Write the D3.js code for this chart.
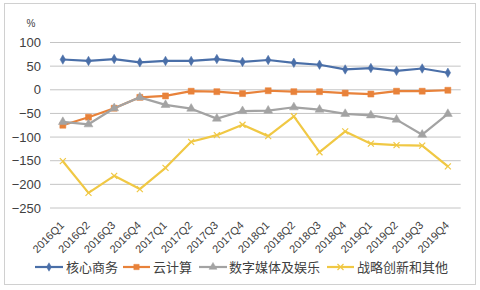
<!DOCTYPE html>
<html>
<head>
<meta charset="utf-8">
<script src="https://cdn.jsdelivr.net/npm/d3@7"></script>
<style>
  body { margin: 0; background: #fff; }
  svg text { font-family: "Liberation Sans", "Noto Sans CJK SC", sans-serif; fill: #404040; }
</style>
</head>
<body>
<svg id="chart" width="480" height="290"></svg>
<script>
const quarters = ["2016Q1","2016Q2","2016Q3","2016Q4","2017Q1","2017Q2","2017Q3","2017Q4",
  "2018Q1","2018Q2","2018Q3","2018Q4","2019Q1","2019Q2","2019Q3","2019Q4"];
const coreCommerce = [64, 61, 65, 58, 61, 61, 65, 59, 63, 57, 53, 43, 46, 40, 45, 36];
const cloudComputing = [-75, -58, -39, -16, -13, -3, -4, -8, -2, -4, -4, -7, -9, -3, -3, -1];
const digitalMedia = [-68, -73, -39, -16, -32, -40, -61, -45, -44, -37, -42, -51, -54, -63, -95, -51];
const innovation = [-151, -218, -182, -210, -165, -110, -96, -74, -98, -56, -132, -88, -114, -117, -118, -162];
const yTicks = [100, 50, 0, -50, -100, -150, -200, -250];

const series = [
  { name: "核心商务", values: coreCommerce, color: "#4A6FA8", marker: "diamond" },
  { name: "云计算", values: cloudComputing, color: "#E8823A", marker: "square" },
  { name: "数字媒体及娱乐", values: digitalMedia, color: "#A3A3A3", marker: "triangle" },
  { name: "战略创新和其他", values: innovation, color: "#F0C844", marker: "cross" }
];

const svg = d3.select("#chart");
const margin = { left: 50, right: 19.3, top: 42.5, bottom: 82 };
const W = 480, H = 290;

// outer frame
svg.append("rect").attr("x", 4.5).attr("y", 3.5).attr("width", 471).attr("height", 281)
  .attr("fill", "#fff").attr("stroke", "#d0d0d0");

const x = d3.scaleBand().domain(quarters).range([margin.left, W - margin.right]);
const y = d3.scaleLinear().domain([-250, 100]).range([H - margin.bottom, margin.top]);

// gridlines
svg.append("g").selectAll("line").data(yTicks).join("line")
  .attr("x1", margin.left).attr("x2", W - margin.right)
  .attr("y1", d => y(d)).attr("y2", d => y(d))
  .attr("stroke", "#c4c4c4").attr("stroke-width", 1);

// y axis labels
const yAxis = svg.append("g").attr("transform", `translate(${margin.left - 9},0)`)
  .call(d3.axisLeft(y).tickValues(yTicks).tickSize(0).tickPadding(0));
yAxis.select(".domain").remove();
yAxis.selectAll("text").attr("font-size", 13).attr("fill", "#404040")
  .style("font-family", "'Liberation Sans', sans-serif");

svg.append("text").attr("x", 31).attr("y", 27).attr("font-size", 10)
  .attr("text-anchor", "middle").text("%");

// x axis labels
const xAxis = svg.append("g").attr("transform", `translate(0,${y(-250)})`)
  .call(d3.axisBottom(x).tickSize(0).tickPadding(0));
xAxis.select(".domain").remove();
xAxis.selectAll("text")
  .attr("font-size", 11).attr("fill", "#404040")
  .attr("text-anchor", "end")
  .attr("dy", 0)
  .attr("transform", "translate(2,18) rotate(-45)")
  .style("font-family", "'Liberation Sans', sans-serif");

const cx = d => x(d) + x.bandwidth() / 2;
const line = d3.line().x((d, i) => cx(quarters[i])).y(d => y(d));

function drawMarker(g, type, color, size) {
  if (type === "cross") {
    const s = 3;
    g.append("path").attr("d", `M${-s},${-s}L${s},${s}M${-s},${s}L${s},${-s}`)
      .attr("stroke", color).attr("stroke-width", 1.2).attr("fill", "none");
  } else {
    const sym = type === "diamond" ? d3.symbolDiamond : type === "square" ? d3.symbolSquare : d3.symbolTriangle;
    g.append("path").attr("d", d3.symbol().type(sym).size(size)())
      .attr("fill", color).attr("stroke", color).attr("stroke-width", 0.5);
  }
}

const sizes = { diamond: 26, square: 36, triangle: 34, cross: 0 };

series.forEach(s => {
  svg.append("path").datum(s.values).attr("d", line)
    .attr("fill", "none").attr("stroke", s.color).attr("stroke-width", 2.2)
    .attr("stroke-linejoin", "round");
  s.values.forEach((v, i) => {
    const g = svg.append("g").attr("transform", `translate(${cx(quarters[i])},${y(v)})`);
    drawMarker(g, s.marker, s.color, sizes[s.marker]);
  });
});

// legend
const legendItems = [
  { x: 35, w: 28, tx: 66 },
  { x: 123, w: 27, tx: 153 },
  { x: 199, w: 28, tx: 229 },
  { x: 327, w: 27, tx: 357 }
];
const ly = 267;
series.forEach((s, i) => {
  const li = legendItems[i];
  svg.append("line").attr("x1", li.x).attr("x2", li.x + li.w).attr("y1", ly).attr("y2", ly)
    .attr("stroke", s.color).attr("stroke-width", 2.2);
  const g = svg.append("g").attr("transform", `translate(${li.x + li.w / 2},${ly})`);
  drawMarker(g, s.marker, s.color, sizes[s.marker] * 0.8);
  svg.append("text").attr("x", li.tx).attr("y", ly).attr("dy", "0.35em")
    .attr("font-size", 13).style("font-family", "'Noto Sans CJK SC', sans-serif")
    .text(s.name);
});
</script>
</body>
</html>
